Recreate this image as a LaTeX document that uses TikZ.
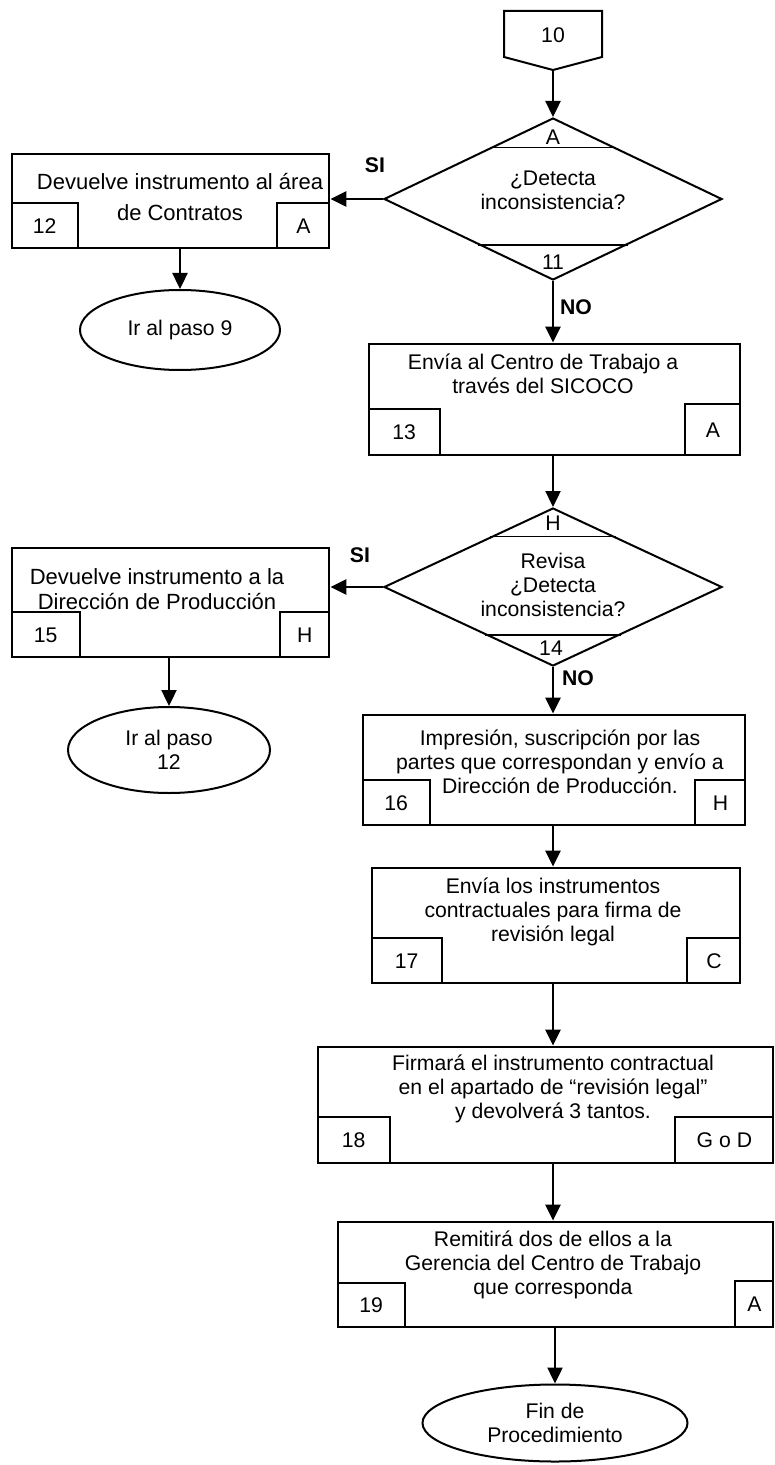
\documentclass[tikz,border=0pt]{standalone}
\usepackage{fontspec}
\setmainfont{Liberation Sans}
\usepackage{tikz}
\usetikzlibrary{positioning,shapes,arrows.meta,calc}
\tikzstyle{paso}=[rectangle, draw=black, line width=1.4pt, inner sep=0pt]
\tikzstyle{clave}=[rectangle, draw=black, line width=1pt, inner sep=0pt, minimum height=22.5pt]
\tikzstyle{decision}=[diamond, draw=black, line width=1pt, inner sep=0pt, minimum width=169pt]
\tikzstyle{terminal}=[ellipse, draw=black, line width=1pt, inner sep=0pt, align=center]
\tikzstyle{texto}=[align=center]
\tikzstyle{textog}=[align=center, font=\fontsize{11}{12.5}\selectfont]
\tikzstyle{resp}=[font=\fontsize{10.6}{12}\selectfont\bfseries]
\tikzstyle{flecha}=[line width=1.2pt, -{Triangle[length=8pt,width=7.5pt]}]

\begin{document}
\begin{tikzpicture}[x=0.5pt, y=-0.5pt, font=\fontsize{10.6}{12}\selectfont]
        \useasboundingbox (0,0) rectangle (775,1465);

        % conector de pagina
        \draw[line width=1pt] (504,11) -- (602,11) -- (602,57) -- (553,70) -- (504,57) -- cycle;
        \node (c10) at (553,35) {10};
        \coordinate (c10tip) at (553,70);

        % paso 11
        \node (d11) [decision, minimum height=81pt] at (553,199) {};
        \node (q11) [texto] at (553,190) {¿Detecta\\inconsistencia?};
        \node (r11) at (553,137) {A};
        \node (n11) at (553,262) {11};
        \draw[line width=0.8pt] ($(d11.north)!0.37!(d11.west)$) -- ($(d11.north)!0.37!(d11.east)$);
        \draw[line width=0.8pt] ($(d11.south)!0.44!(d11.west)$) -- ($(d11.south)!0.44!(d11.east)$);

        % paso 12
        \node (s12) [paso, minimum width=158.5pt, minimum height=47pt] at (170.5,201) {};
        \node (t12) [textog] at (180,197) {Devuelve instrumento al área\\[3pt]de Contratos};
        \node (k12) [clave, anchor=south west, minimum width=33pt] at (s12.south west) {12};
        \node (a12) [clave, anchor=south east, minimum width=26pt] at (s12.south east) {A};
        \node (e9) [terminal, minimum width=100pt, minimum height=40pt] at (180,330) {Ir al paso 9};

        % paso 13
        \node (s13) [paso, minimum width=185.5pt, minimum height=55.5pt] at (554.5,399.5) {};
        \node (t13) [texto] at (543,374) {Envía al Centro de Trabajo a\\través del SICOCO};
        \node (k13) [clave, anchor=south west, minimum width=35.5pt, minimum height=23pt] at (s13.south west) {13};
        \node (a13) [clave, anchor=south east, minimum width=27.5pt, minimum height=25.5pt] at (s13.south east) {A};

        % paso 14
        \node (d14) [decision, minimum height=79pt] at (553,587) {};
        \node (q14) [texto] at (553,585) {Revisa\\¿Detecta\\inconsistencia?};
        \node (r14) at (553,523) {H};
        \node (n14) at (551,648) {14};
        \draw[line width=0.8pt] ($(d14.north)!0.37!(d14.west)$) -- ($(d14.north)!0.37!(d14.east)$);
        \draw[line width=0.8pt] ($(d14.south)!0.4!(d14.west)$) -- ($(d14.south)!0.4!(d14.east)$);

        % paso 15
        \node (s15) [paso, minimum width=158.5pt, minimum height=54.5pt] at (170.5,602.5) {};
        \node (t15) [textog] at (157,589) {Devuelve instrumento a la\\Dirección de Producción};
        \node (k15) [clave, anchor=south west, minimum width=34pt] at (s15.south west) {15};
        \node (a15) [clave, anchor=south east, minimum width=24.5pt] at (s15.south east) {H};
        \node (e12) [terminal, minimum width=101pt, minimum height=43pt] at (169,750) {Ir al paso\\12};

        % paso 16
        \node (s16) [paso, minimum width=191pt, minimum height=55pt] at (554,770) {};
        \node (t16) [texto] at (560,762) {Impresión, suscripción por las\\partes que correspondan y envío a\\Dirección de Producción.};
        \node (k16) [clave, anchor=south west, minimum width=33.5pt] at (s16.south west) {16};
        \node (a16) [clave, anchor=south east, minimum width=25pt] at (s16.south east) {H};

        % paso 17
        \node (s17) [paso, minimum width=184pt, minimum height=57.5pt] at (556,925.5) {};
        \node (t17) [texto] at (553,912) {Envía los instrumentos\\contractuales para firma de\\revisión legal};
        \node (k17) [clave, anchor=south west, minimum width=35pt] at (s17.south west) {17};
        \node (a17) [clave, anchor=south east, minimum width=26.5pt] at (s17.south east) {C};

        % paso 18
        \node (s18) [paso, minimum width=227.5pt, minimum height=58pt] at (545.5,1105) {};
        \node (t18) [texto] at (553,1089) {Firmará el instrumento contractual\\en el apartado de “revisión legal”\\y devolverá 3 tantos.};
        \node (k18) [clave, anchor=south west, minimum width=36pt, minimum height=23pt] at (s18.south west) {18};
        \node (a18) [clave, anchor=south east, minimum width=49pt, minimum height=23pt] at (s18.south east) {G o D};

        % paso 19
        \node (s19) [paso, minimum width=217.5pt, minimum height=52.5pt] at (555.5,1274.5) {};
        \node (t19) [texto] at (553,1265) {Remitirá dos de ellos a la\\Gerencia del Centro de Trabajo\\que corresponda};
        \node (k19) [clave, anchor=south west, minimum width=33.5pt, minimum height=22pt] at (s19.south west) {19};
        \node (a19) [clave, anchor=south east, minimum width=19pt, minimum height=23pt] at (s19.south east) {A};
        \node (efin) [terminal, minimum width=132.5pt, minimum height=38.5pt] at (555,1423) {Fin de\\Procedimiento};

        % respuestas
        \node (si11) [resp] at (375,165) {SI};
        \node (no11) [resp] at (576,307) {NO};
        \node (si14) [resp] at (360,555) {SI};
        \node (no14) [resp] at (578,678) {NO};

        % flechas
        \draw[flecha] (c10tip) -- (d11.north);
        \draw[flecha] (d11.west) -- (d11.west -| s12.east);
        \draw[flecha] (e9.north |- s12.south) -- (e9.north);
        \draw[flecha] (d11.south) -- (s13.north -| d11);
        \draw[flecha] (d14 |- s13.south) -- (d14.north);
        \draw[flecha] (d14.west) -- (d14.west -| s15.east);
        \draw[flecha] (e12.north |- s15.south) -- (e12.north);
        \draw[flecha] (d14.south) -- (d14 |- s16.north);
        \draw[flecha] (d14 |- s16.south) -- (d14 |- s17.north);
        \draw[flecha] (d14 |- s17.south) -- (d14 |- s18.north);
        \draw[flecha] (d14 |- s18.south) -- (d14 |- s19.north);
        \draw[flecha] (efin |- s19.south) -- (efin.north);
      \end{tikzpicture}
\end{document}
